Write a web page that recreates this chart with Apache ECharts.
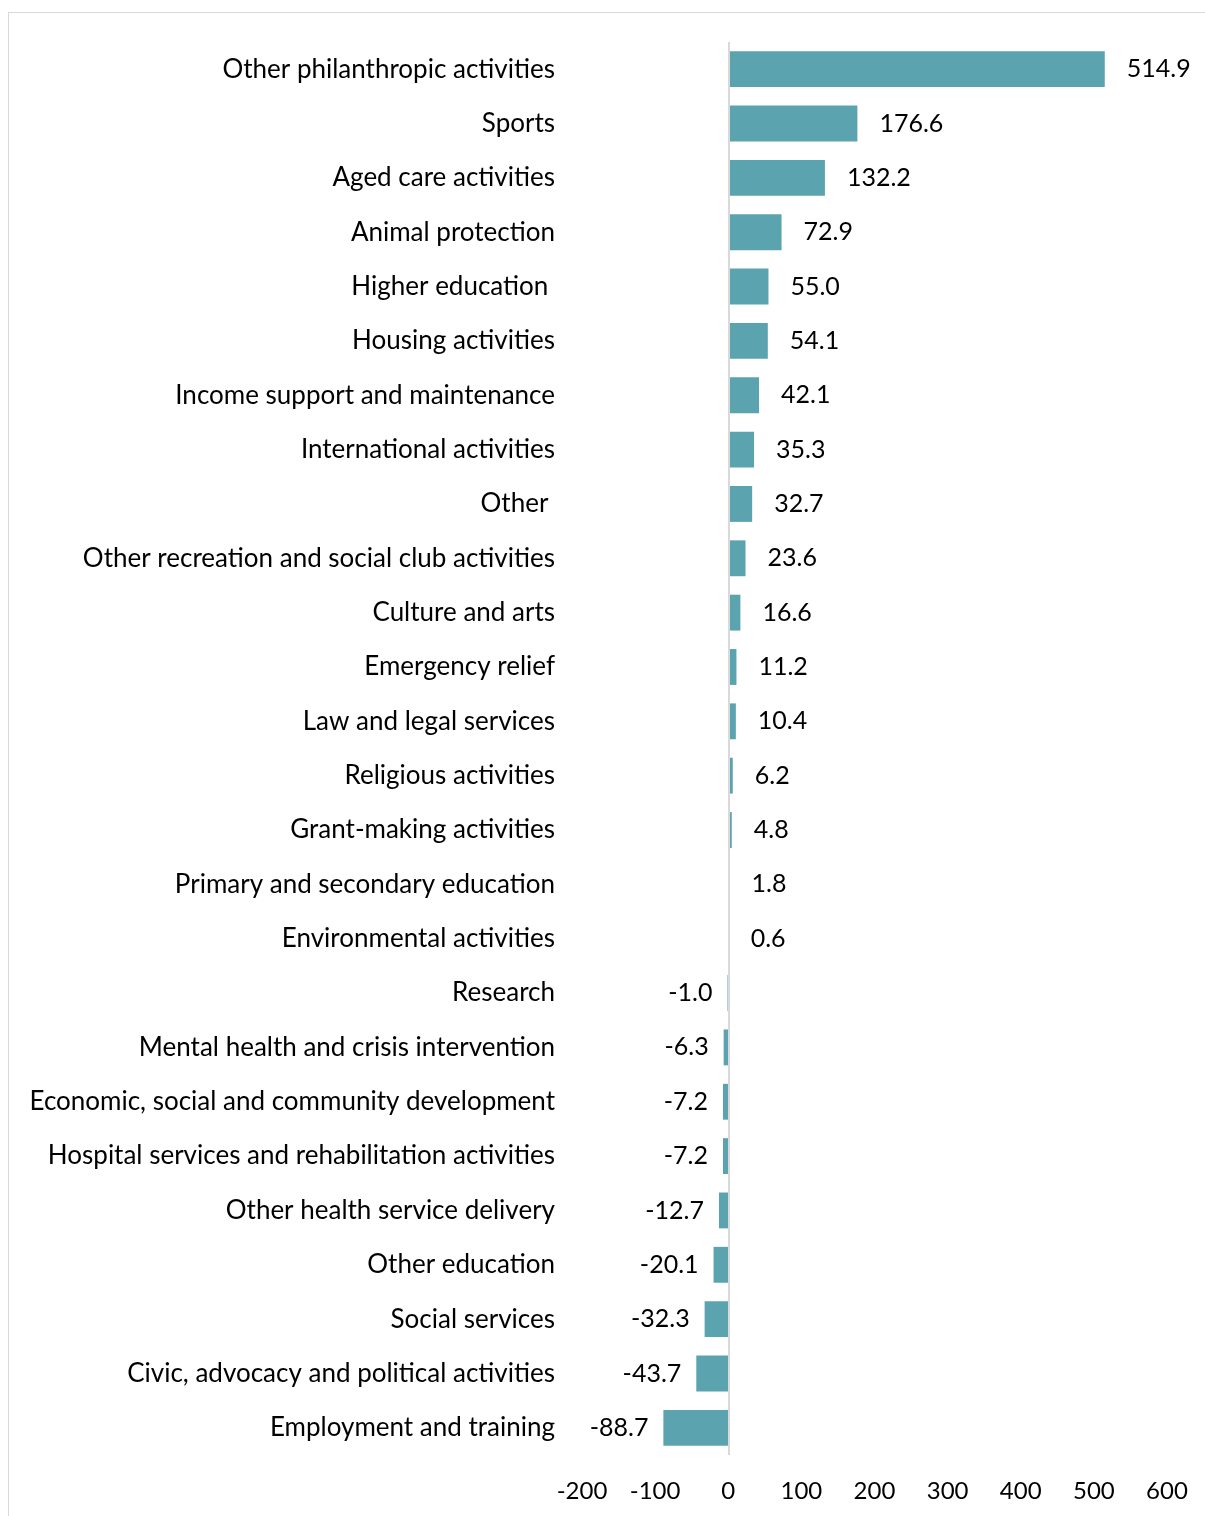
<!DOCTYPE html>
<html>
<head>
<meta charset="utf-8">
<script src="https://cdn.jsdelivr.net/npm/echarts@6/dist/echarts.min.js"></script>
<style>
  html, body { margin: 0; padding: 0; background: #fff; }
  #frame { position: absolute; left: 8px; top: 12px; width: 1300px; height: 1600px; border: 1.5px solid #d9d9d9; box-sizing: border-box; }
  #chart { position: absolute; left: 0; top: 0; width: 1205px; height: 1516px; }
</style>
</head>
<body>
<div id="frame"></div>
<div id="chart"></div>
<script>
// Activity categories, top to bottom
const categories = [
  "Other philanthropic activities",
  "Sports",
  "Aged care activities",
  "Animal protection",
  "Higher education ",
  "Housing activities",
  "Income support and maintenance",
  "International activities",
  "Other ",
  "Other recreation and social club activities",
  "Culture and arts",
  "Emergency relief",
  "Law and legal services",
  "Religious activities",
  "Grant-making activities",
  "Primary and secondary education",
  "Environmental activities",
  "Research",
  "Mental health and crisis intervention",
  "Economic, social and community development",
  "Hospital services and rehabilitation activities",
  "Other health service delivery",
  "Other education",
  "Social services",
  "Civic, advocacy and political activities",
  "Employment and training"
];

// Change per category
const values = [
  514.9, 176.6, 132.2, 72.9, 55.0, 54.1, 42.1, 35.3, 32.7, 23.6, 16.6, 11.2, 10.4,
  6.2, 4.8, 1.8, 0.6, -1.0, -6.3, -7.2, -7.2, -12.7, -20.1, -32.3, -43.7, -88.7
];

// Value axis ticks
const xTicks = [-200, -100, 0, 100, 200, 300, 400, 500, 600];

const FONT = "Lato, 'Liberation Sans', sans-serif";
const BAR = "#5ba3af";

const chart = echarts.init(document.getElementById("chart"), null, { renderer: "canvas" });

const barData = values.map(v => ({
  value: v,
  label: {
    position: v < 0 ? "left" : "right",
    distance: v < 0 ? 15 : 22
  }
}));

chart.setOption({
  animation: false,
  backgroundColor: "transparent",
  grid: { left: 582, right: 38, top: 42, bottom: 61 },
  xAxis: {
    type: "value",
    min: xTicks[0],
    max: xTicks[xTicks.length - 1],
    interval: 100,
    axisLine: { show: false },
    axisTick: { show: false },
    splitLine: { show: false },
    axisLabel: { fontFamily: FONT, fontSize: 24, color: "#000", margin: 24 }
  },
  yAxis: {
    type: "category",
    data: categories,
    inverse: true,
    axisLine: { show: false },
    axisTick: { show: false },
    axisLabel: { fontFamily: FONT, fontSize: 26, color: "#000", margin: 27, padding: [2, 0, 0, 0] }
  },
  series: [{
    type: "bar",
    data: barData,
    barWidth: "66%",
    itemStyle: { color: BAR },
    label: {
      show: true,
      fontFamily: FONT,
      fontSize: 25,
      color: "#000",
      padding: [2, 0, 0, 0],
      formatter: p => p.value.toFixed(1)
    },
    markLine: {
      silent: true,
      symbol: "none",
      label: { show: false },
      lineStyle: { color: "#d9d9d9", type: "solid", width: 2 },
      data: [{ xAxis: 0 }]
    }
  }]
});
</script>
</body>
</html>
